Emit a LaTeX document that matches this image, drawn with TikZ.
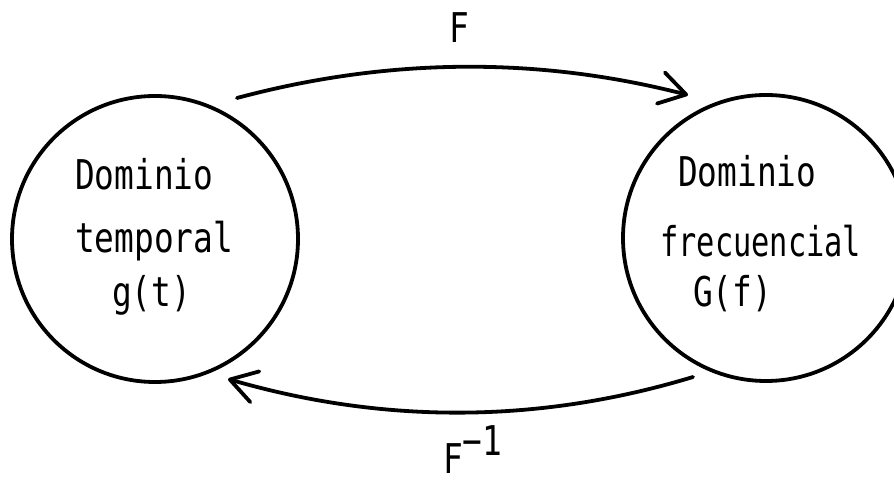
\documentclass[tikz,border=0pt]{standalone}
\usepackage{fontspec}
\newfontfamily\dfont[FakeStretch=0.8]{DejaVu Sans Mono}
\newfontfamily\dfontn[FakeStretch=0.74]{DejaVu Sans Mono}
\usetikzlibrary{arrows.meta}
\begin{document}
\begin{tikzpicture}[x=1pt,y=1pt,
  dom/.style={circle,draw,line width=3.8pt,minimum size=286pt,inner sep=0pt},
  txt/.style={anchor=base west,inner sep=0pt,font=\dfont\fontsize{41}{41}\selectfont},
  conn/.style={line width=3.8pt,line cap=round,-{Straight Barb[length=26pt,width=32pt,line cap=round,round]}}]
\clip (0,0) rectangle (894,482);
\fill[white] (0,0) rectangle (894,482);
\node[dom] (L) at (155,243) {};
\node[dom] (R) at (766,244) {};
\node[txt] (l1) at (75,292) {Dominio};
\node[txt] (l2) at (75,229) {temporal};
\node[txt] (l3) at (112,175) {g(t)};
\node[txt] (r1) at (678,295) {Dominio};
\node[txt,font=\dfontn\fontsize{41}{41}\selectfont] (r2) at (660,225) {frecuencial};
\node[txt] (r3) at (693,175) {G(f)};
\coordinate (t1) at (237,384);
\coordinate (t2) at (688,387);
\coordinate (b1) at (693,105);
\coordinate (b2) at (228,103);
\draw[conn] (t1) .. controls (390,425) and (540,425) .. (t2);
\draw[conn] (b1) .. controls (538,58) and (383,58) .. (b2);
\node[txt] (F) at (449,439) {F};
\node[txt] (Fi) at (443,9) {F\raisebox{18pt}{−1}};
\end{tikzpicture}
\end{document}
